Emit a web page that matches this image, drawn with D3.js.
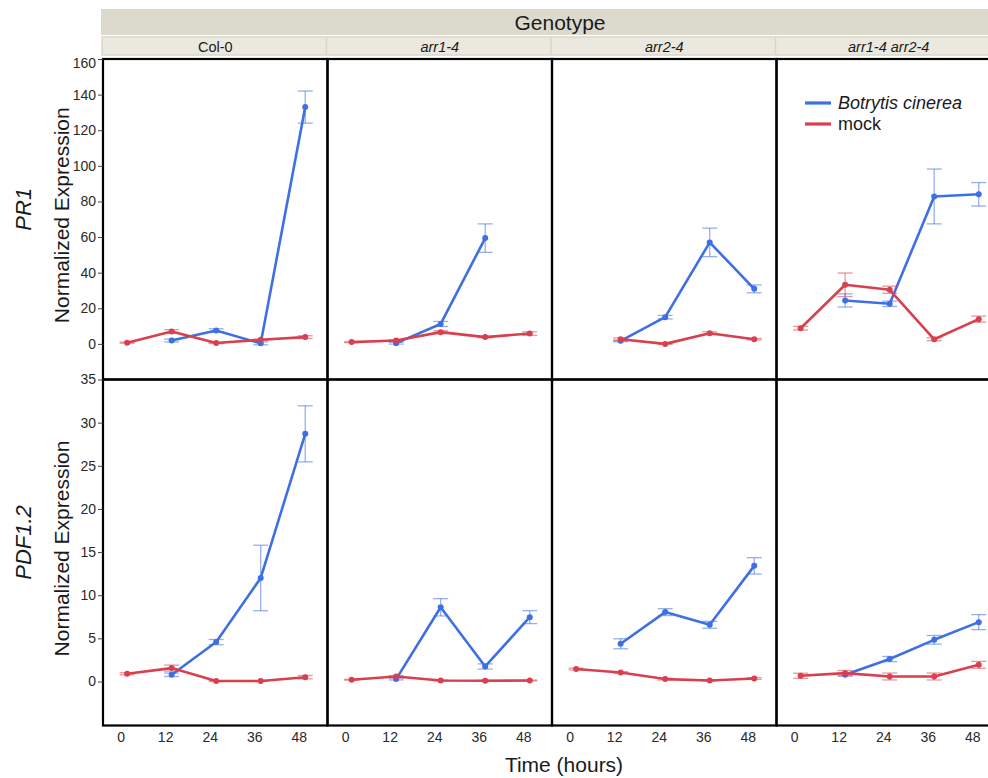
<!DOCTYPE html>
<html>
<head>
<meta charset="utf-8">
<script src="https://cdn.jsdelivr.net/npm/d3@7"></script>
<style>
  body { margin: 0; background: #fff; }
  svg { display: block; }
  text { font-family: "Liberation Sans", Arial, Helvetica, sans-serif; }
</style>
</head>
<body>
<svg id="chart" width="988" height="778"></svg>
<script>
// ---- data ---------------------------------------------------------------
const genotypes = ["Col-0", "arr1-4", "arr2-4", "arr1-4 arr2-4"];
const genotypeItalic = [false, true, true, true];
const genes = ["PR1", "PDF1.2"];
const times = [0, 12, 24, 36, 48];
const treatments = ["Botrytis cinerea", "mock"];
const pr1Ticks = [0, 20, 40, 60, 80, 100, 120, 140, 160];
const pdfTicks = [0, 5, 10, 15, 20, 25, 30, 35];

// PR1 mean expression per genotype (rows) and time (columns); null = no sample
const pr1Botrytis = [
  [null, 1.9, 7.5, 0.3, 133],
  [null, 0.4, 11.2, 59.4, null],
  [null, 1.7, 15.0, 57.0, 30.9],
  [null, 24.4, 22.5, 82.8, 84.0]
];
const pr1BotrytisErr = [
  [null, 0.8, 1.0, 0.8, 9.0],
  [null, 0.5, 1.4, 8.0, null],
  [null, 0.5, 1.0, 8.0, 2.2],
  [null, 3.7, 1.5, 15.4, 6.6]
];
const pr1Mock = [
  [0.7, 7.0, 0.5, 2.3, 3.8],
  [1.0, 1.9, 6.6, 3.8, 5.8],
  [null, 2.6, 0.0, 6.0, 2.6],
  [8.8, 33.2, 30.4, 2.6, 13.9]
];
const pr1MockErr = [
  [0.3, 1.0, 0.3, 0.3, 0.8],
  [0.3, 0.5, 0.8, 0.4, 1.0],
  [null, 0.8, 0.3, 0.8, 0.4],
  [1.0, 6.6, 2.0, 0.8, 1.7]
];

// PDF1.2 mean expression per genotype and time
const pdfBotrytis = [
  [null, 0.78, 4.57, 12.0, 28.7],
  [null, 0.28, 8.6, 1.74, 7.46],
  [null, 4.37, 8.04, 6.57, 13.4],
  [null, 0.78, 2.6, 4.83, 6.88]
];
const pdfBotrytisErr = [
  [null, 0.2, 0.3, 3.8, 3.25],
  [null, 0.1, 1.0, 0.3, 0.75],
  [null, 0.58, 0.4, 0.4, 0.95],
  [null, 0.15, 0.3, 0.5, 0.87]
];
const pdfMock = [
  [0.9, 1.55, 0.05, 0.05, 0.5],
  [0.2, 0.58, 0.12, 0.08, 0.12],
  [1.44, 1.05, 0.28, 0.12, 0.35],
  [0.66, 0.97, 0.58, 0.58, 1.93]
];
const pdfMockErr = [
  [0.12, 0.35, 0.05, 0.05, 0.2],
  [0.05, 0.1, 0.05, 0.05, 0.05],
  [0.1, 0.1, 0.1, 0.05, 0.1],
  [0.3, 0.3, 0.4, 0.4, 0.4]
];

// ---- layout -------------------------------------------------------------
const colors = { "Botrytis cinerea": "#3e6fe3", "mock": "#d8404f" };
const textColor = "#2a2a2a";
const plotLeft = 103, plotRight = 1001;
const rowTops = [59, 379.5];
const rowBottoms = [379.5, 725.5];
const yDomains = [[-20, 160], [-5.1, 35]];
const xDomain = [-6.5, 54];

const svg = d3.select("#chart");

const col = d3.scaleBand().domain(genotypes).range([plotLeft, plotRight]);

const rows = [
  {
    gene: genes[0], ticks: pr1Ticks,
    series: [
      { name: treatments[0], values: pr1Botrytis, err: pr1BotrytisErr },
      { name: treatments[1], values: pr1Mock, err: pr1MockErr }
    ]
  },
  {
    gene: genes[1], ticks: pdfTicks,
    series: [
      { name: treatments[0], values: pdfBotrytis, err: pdfBotrytisErr },
      { name: treatments[1], values: pdfMock, err: pdfMockErr }
    ]
  }
];
rows.forEach((r, i) => {
  r.y = d3.scaleLinear().domain(yDomains[i]).range([rowBottoms[i], rowTops[i]]);
});

// ---- header strips --------------------------------------------------------
svg.append("rect")
  .attr("x", plotLeft - 2).attr("y", 9)
  .attr("width", 988 - plotLeft + 2).attr("height", 26)
  .attr("fill", "#dcdacd");
svg.append("text")
  .attr("x", 560).attr("y", 30)
  .attr("text-anchor", "middle")
  .attr("font-size", 21).attr("fill", "#1a1a1a")
  .text("Genotype");

const strip = svg.append("g");
genotypes.forEach((g, i) => {
  strip.append("rect")
    .attr("x", col(g) - 1).attr("y", 37)
    .attr("width", col.bandwidth()).attr("height", 18)
    .attr("fill", "#ebe9df")
    .attr("stroke", "#d9d7ca").attr("stroke-width", 1.5);
  strip.append("text")
    .attr("x", col(g) + col.bandwidth() / 2).attr("y", 51.5)
    .attr("text-anchor", "middle")
    .attr("font-size", 14.5)
    .attr("font-style", genotypeItalic[i] ? "italic" : "normal")
    .attr("fill", "#1a1a1a")
    .text(g);
});

// ---- panels ---------------------------------------------------------------
const line = (x, y) => d3.line().x(d => x(d.t)).y(d => y(d.v));

rows.forEach((r, ri) => {
  const y = r.y;
  genotypes.forEach((g, gi) => {
    const x = d3.scaleLinear().domain(xDomain).range([col(g), col(g) + col.bandwidth()]);
    const panel = svg.append("g");

    r.series.forEach(s => {
      const c = colors[s.name];
      const pts = times
        .map((t, k) => ({ t, v: s.values[gi][k], e: s.err[gi][k] }))
        .filter(d => d.v != null);

      // error bars
      const eb = panel.append("g")
        .attr("stroke", c).attr("stroke-opacity", 0.55)
        .attr("stroke-width", 1.3).attr("fill", "none");
      pts.forEach(d => {
        const y0 = y(d.v - d.e), y1 = y(d.v + d.e), xp = x(d.t);
        eb.append("line").attr("x1", xp).attr("x2", xp).attr("y1", y0).attr("y2", y1);
        eb.append("line").attr("x1", xp - 7.5).attr("x2", xp + 7.5).attr("y1", y0).attr("y2", y0);
        eb.append("line").attr("x1", xp - 7.5).attr("x2", xp + 7.5).attr("y1", y1).attr("y2", y1);
      });

      // mean line and markers
      panel.append("path")
        .datum(pts)
        .attr("d", line(x, y))
        .attr("fill", "none")
        .attr("stroke", c)
        .attr("stroke-width", 2.6)
        .attr("stroke-linejoin", "round");
      panel.selectAll(null)
        .data(pts)
        .join("circle")
        .attr("cx", d => x(d.t)).attr("cy", d => y(d.v))
        .attr("r", 3)
        .attr("fill", c);
    });

    // panel frame
    panel.append("rect")
      .attr("x", col(g)).attr("y", rowTops[ri])
      .attr("width", col.bandwidth()).attr("height", rowBottoms[ri] - rowTops[ri])
      .attr("fill", "none").attr("stroke", "#000").attr("stroke-width", 2.2);

    // time ticks under the bottom row
    if (ri === rows.length - 1) {
      panel.selectAll(null)
        .data(times)
        .join("text")
        .attr("x", t => x(t) - 6).attr("y", 742)
        .attr("text-anchor", "middle")
        .attr("font-size", 14).attr("fill", textColor)
        .text(t => t);
    }
  });

  // value axis on the left
  const ax = svg.append("g")
    .attr("transform", `translate(${plotLeft},0)`)
    .call(d3.axisLeft(y).tickValues(r.ticks).tickSize(5).tickPadding(2));
  ax.select(".domain").remove();
  ax.selectAll(".tick line").attr("stroke", "#444");
  ax.selectAll(".tick text")
    .attr("font-size", 14).attr("fill", textColor)
    .attr("font-family", "Liberation Sans, Arial, sans-serif")
    .attr("dy", d => (ri === 0 && y(d) < rowTops[0] + 4 ? "0.6em" : "0.32em"));

  const mid = (rowTops[ri] + rowBottoms[ri]) / 2;
  svg.append("text")
    .attr("transform", `translate(69,${mid - 4}) rotate(-90)`)
    .attr("text-anchor", "middle")
    .attr("font-size", 21).attr("fill", "#1a1a1a")
    .text("Normalized Expression");
  svg.append("text")
    .attr("transform", `translate(31,${mid - 10}) rotate(-90)`)
    .attr("text-anchor", "middle")
    .attr("font-size", 22).attr("font-style", "italic").attr("fill", "#1a1a1a")
    .text(r.gene);
});

// ---- axis title -----------------------------------------------------------
svg.append("text")
  .attr("x", 564).attr("y", 772)
  .attr("text-anchor", "middle")
  .attr("font-size", 21).attr("fill", "#1a1a1a")
  .text("Time (hours)");

// ---- legend ---------------------------------------------------------------
const legend = svg.append("g").attr("transform", "translate(805,103)");
treatments.forEach((t, i) => {
  const row = legend.append("g").attr("transform", `translate(0,${i * 21})`);
  row.append("line")
    .attr("x1", 0).attr("x2", 26)
    .attr("stroke", colors[t]).attr("stroke-width", 3.2);
  row.append("text")
    .attr("x", 33).attr("y", 6)
    .attr("font-size", 18)
    .attr("font-style", i === 0 ? "italic" : "normal")
    .attr("fill", "#1a1a1a")
    .text(t);
});
</script>
</body>
</html>
